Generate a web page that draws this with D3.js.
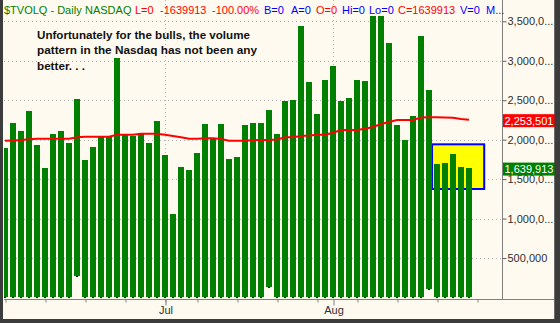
<!DOCTYPE html>
<html><head><meta charset="utf-8">
<script src="https://cdn.jsdelivr.net/npm/d3@7"></script>
<style>html,body{margin:0;padding:0;background:#3c3c3c;overflow:hidden}</style>
</head><body><svg id="c" width="560" height="323"></svg>
<script>
// ---- data ----
const dates = [
 "2007-06-04","2007-06-05","2007-06-06","2007-06-07","2007-06-08","2007-06-11","2007-06-12","2007-06-13","2007-06-14","2007-06-15",
 "2007-06-18","2007-06-19","2007-06-20","2007-06-21","2007-06-22","2007-06-25","2007-06-26","2007-06-27","2007-06-28","2007-06-29",
 "2007-07-02","2007-07-03","2007-07-05","2007-07-06","2007-07-09","2007-07-10","2007-07-11","2007-07-12","2007-07-13","2007-07-16",
 "2007-07-17","2007-07-18","2007-07-19","2007-07-20","2007-07-23","2007-07-24","2007-07-25","2007-07-26","2007-07-27","2007-07-30",
 "2007-07-31","2007-08-01","2007-08-02","2007-08-03","2007-08-06","2007-08-07","2007-08-08","2007-08-09","2007-08-10","2007-08-13",
 "2007-08-14","2007-08-15","2007-08-16","2007-08-17","2007-08-20","2007-08-21","2007-08-22","2007-08-23","2007-08-24"];
const volHigh = [1900000,2216000,2115000,2368000,1934000,1647000,2077000,2115000,1963000,2520000,
 1748000,1913000,2039000,2039000,3039000,2070000,2052000,2082000,1959000,2238000,
 1808000,1061000,1656000,1618000,1833000,2204000,2006000,2204000,1757000,1786000,
 2187000,2213000,2213000,2381000,2077000,2495000,2504000,3444000,2735000,2330000,
 2757000,2934000,2495000,2529000,2761000,2748000,3571000,3571000,3229000,2187000,
 1997000,2301000,3318000,2630000,1694000,1710000,1820000,1660000,1639913];
const volLow = [0,0,0,0,0,0,0,0,0,264000,
 0,0,0,0,0,0,0,0,0,0,
 0,0,0,0,0,0,0,0,0,0,
 0,0,0,120000,0,0,0,0,0,0,
 0,0,0,0,0,0,0,0,0,0,
 0,0,0,100000,0,0,0,0,0];
const movingAvg = [1987000,1991000,1996000,2005000,2012000,2012000,2012000,2012000,2012000,2030000,
 2038000,2038000,2038000,2038000,2063000,2063000,2063000,2076000,2076000,2076000,
 2063000,2047000,2030000,2012000,2012000,2017000,2017000,2009000,1987000,1987000,
 1987000,1996000,1996000,1996000,2002000,2030000,2030000,2047000,2053000,2063000,
 2063000,2088000,2123000,2123000,2123000,2139000,2161000,2199000,2224000,2249000,
 2249000,2249000,2281000,2284000,2284000,2281000,2278000,2262000,2253501];
const yTicks = [500000,1000000,1500000,2000000,2500000,3000000,3500000];
const weekTickIdx = [0,5,10,15,20,24,29,34,39,44,49,54,59];
const monthTickIdx = [20,41];
const monthLabels = ["Jul","Aug"];
const highlightIdx = [53.375,59.9];
const highlightVal = [1375000,1941000];
const lastMA = 2253501, lastClose = 1639913;
const headerParts = ["$TVOLQ - Daily","NASDAQ","L=0","-1639913","-100.00%","B=0","A=0","O=0","Hi=0","Lo=0","C=1639913","V=0","M..."];
const noteLines = ["Unfortunately for the bulls, the volume","pattern in the Nasdaq has not been any","better. . ."];

// ---- drawing ----
const W=560,H=323;
const svg=d3.select("#c");
const FONT="'Liberation Sans', Arial, sans-serif";
svg.append("rect").attr("width",W).attr("height",H).attr("fill","#3c3c3c");
svg.append("rect").attr("x",3).attr("y",0).attr("width",551.5).attr("height",319).attr("fill","#FFFAF0");

const x=d3.scaleLinear().domain([0,58]).range([5,469]);
const y=d3.scaleLinear().domain([0,3500000]).range([297.5,21.3]);
const PL=4, PR=502, PB=299;

svg.append("defs").append("clipPath").attr("id","pc").append("rect")
  .attr("x",PL).attr("y",0).attr("width",PR-PL).attr("height",PB);

const plot=svg.append("g").attr("clip-path","url(#pc)");
// grid
plot.selectAll(".hg").data(yTicks).join("line")
  .attr("x1",PL).attr("x2",PR).attr("y1",d=>Math.round(y(d))+0.5).attr("y2",d=>Math.round(y(d))+0.5)
  .attr("stroke","#b4b4b4").attr("stroke-dasharray","1,3");
plot.selectAll(".vg").data(monthTickIdx).join("line")
  .attr("x1",d=>Math.round(x(d))+0.5).attr("x2",d=>Math.round(x(d))+0.5).attr("y1",0).attr("y2",PB)
  .attr("stroke","#b4b4b4").attr("stroke-dasharray","1,3");
// highlight box
plot.append("rect")
  .attr("x",x(highlightIdx[0])).attr("width",x(highlightIdx[1])-x(highlightIdx[0]))
  .attr("y",y(highlightVal[1])).attr("height",y(highlightVal[0])-y(highlightVal[1]))
  .attr("fill","#FFFF00").attr("stroke","#0000FF").attr("stroke-width",2);
// bars
plot.selectAll(".bar").data(volHigh).join("rect")
  .attr("x",(d,i)=>Math.round(x(i))-3).attr("width",6)
  .attr("y",d=>Math.round(y(d)))
  .attr("height",(d,i)=>Math.round(y(volLow[i]))-1-Math.round(y(d)))
  .attr("fill","#008000");
plot.selectAll(".mk").data(volLow).join("rect")
  .attr("x",(d,i)=>Math.round(x(i))-1).attr("width",2)
  .attr("y",d=>Math.round(y(d))-1).attr("height",1)
  .attr("fill","#000");
// moving average
plot.append("path").datum(movingAvg)
  .attr("d",d3.line().x((d,i)=>x(i)).y(d=>y(d)))
  .attr("fill","none").attr("stroke","#FF0000").attr("stroke-width",2);

// axes lines
svg.append("line").attr("x1",PR+0.5).attr("x2",PR+0.5).attr("y1",0).attr("y2",PB).attr("stroke","#808080");
svg.append("line").attr("x1",PL).attr("x2",555).attr("y1",PB+0.5).attr("y2",PB+0.5).attr("stroke","#808080");

// y axis
const fmt=d3.format(",");
const yAx=svg.append("g").attr("transform",`translate(${PR+0.5},0)`)
  .call(d3.axisRight(y).tickValues(yTicks).tickSize(4).tickPadding(1)
    .tickFormat(v=>{const s=fmt(v);return s.length>7?s.slice(0,7)+"...":s;}));
yAx.select(".domain").remove();
yAx.selectAll("line").attr("stroke","#606060");
yAx.selectAll("text").attr("font-family",FONT).attr("font-size",11).attr("fill","#303030");

// x axis
const xw=svg.append("g").attr("transform",`translate(0.5,${PB+0.5})`)
  .call(d3.axisBottom(x).tickValues(weekTickIdx).tickSize(3).tickFormat(""));
xw.select(".domain").remove();
xw.selectAll("line").attr("stroke","#808080");
const xm=svg.append("g").attr("transform",`translate(0.5,${PB+0.5})`)
  .call(d3.axisBottom(x).tickValues(monthTickIdx).tickSize(6).tickPadding(1)
    .tickFormat((d,i)=>monthLabels[i]));
xm.select(".domain").remove();
xm.selectAll("line").attr("stroke","#808080");
xm.selectAll("text").attr("font-family",FONT).attr("font-size",11).attr("fill","#303030");

// last value labels
function valBox(v,color){
  const cy=y(v)+1;
  svg.append("rect").attr("x",PR+1).attr("y",cy-6.5).attr("width",54).attr("height",13).attr("fill",color);
  svg.append("text").attr("x",PR+2.5).attr("y",cy).attr("dy","0.35em")
    .attr("font-family",FONT).attr("font-size",11).attr("fill","#fff").text(fmt(v));
}
valBox(lastMA,"#FF0000");
valBox(lastClose,"#008000");

// header
const hx=[4,85,135,160,212,264,291,316,342,369,398,460,486];
const hc=["#008000","#008000","#FF0000","#FF0000","#FF0000","#0000FF","#0000FF","#FF0000","#0000FF","#0000FF","#FF0000","#0000FF","#0000FF"];
svg.append("g").selectAll("text").data(headerParts).join("text")
  .attr("x",(d,i)=>hx[i]).attr("y",14)
  .attr("font-family",FONT).attr("font-size",11).attr("fill",(d,i)=>hc[i]).text(d=>d);

// note
const nw=[213,220,48];
svg.append("g").selectAll("text").data(noteLines).join("text")
  .attr("x",37).attr("y",(d,i)=>39+i*15.4)
  .attr("font-family",FONT).attr("font-size",11.5).attr("font-weight","bold").attr("fill","#111")
  .attr("textLength",(d,i)=>nw[i]).attr("lengthAdjust","spacingAndGlyphs").text(d=>d);

// frame
svg.append("rect").attr("x",0).attr("y",0).attr("width",3).attr("height",H).attr("fill","#3c3c3c");
svg.append("rect").attr("x",554.5).attr("y",0).attr("width",6).attr("height",H).attr("fill","#3c3c3c");
svg.append("rect").attr("x",0).attr("y",319).attr("width",W).attr("height",4).attr("fill","#3c3c3c");
</script></body></html>
